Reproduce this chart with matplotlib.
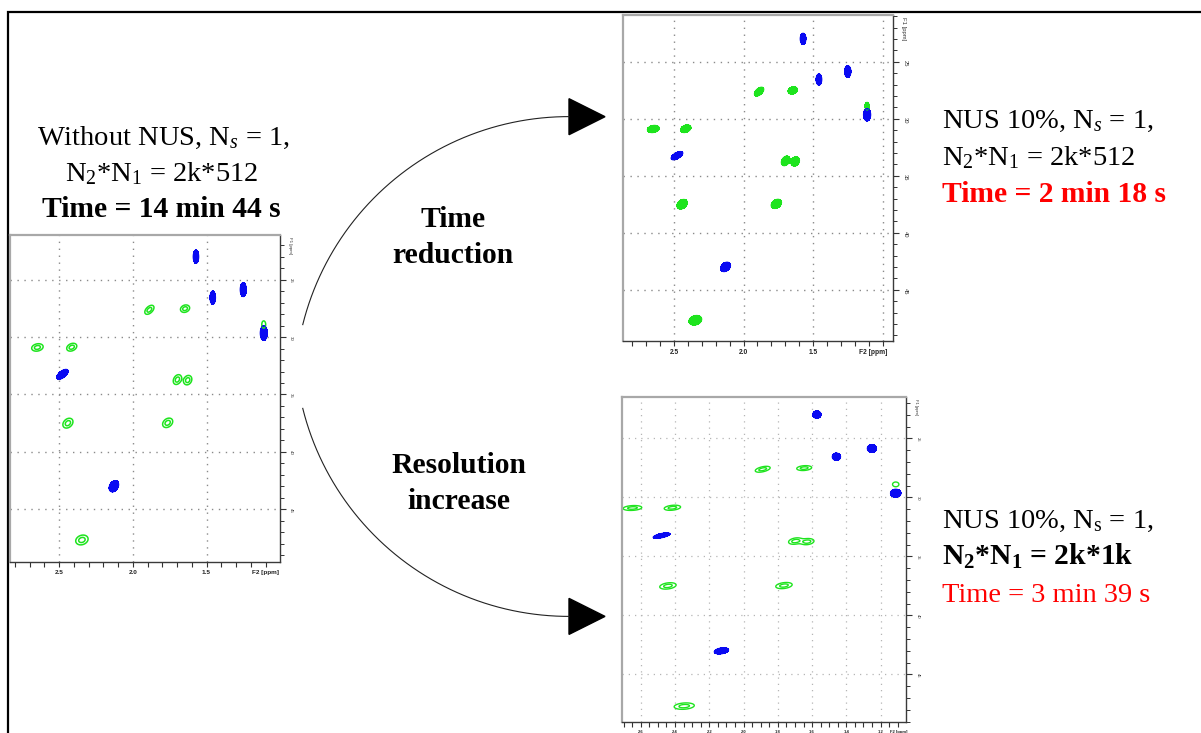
import numpy as np
import matplotlib
matplotlib.use("Agg")
import matplotlib.pyplot as plt
from matplotlib.ticker import FixedLocator, FixedFormatter, MultipleLocator
from matplotlib.patches import Polygon

plt.rcParams['mathtext.fontset'] = 'custom'
plt.rcParams['mathtext.rm'] = 'Liberation Serif'
plt.rcParams['mathtext.it'] = 'Liberation Serif:italic'
plt.rcParams['mathtext.bf'] = 'Liberation Serif:bold'
plt.rcParams['mathtext.default'] = 'regular'

# ---------------- data: cross peaks (F2 = 1H ppm, F1 = 13C ppm) ----------------
peak_f2 = [1.572, 1.458, 1.251, 1.112, 2.478, 2.129,
           2.648, 2.415, 1.888, 1.646, 1.698, 1.628, 2.441, 1.764, 2.346, 1.112]
peak_f1 = [22.99, 26.56, 25.86, 29.65, 33.24, 43.00,
           30.90, 30.88, 27.62, 27.52, 33.70, 33.75, 37.50, 37.47, 47.68, 28.90]
peak_sign = [-1, -1, -1, -1, -1, -1,
             1, 1, 1, 1, 1, 1, 1, 1, 1, 1]          # -1 = blue (CH2), +1 = green
peak_amp = [1, 1, 1, 1, 1, 1,
            1, 1, 1, 1, 1, 1, 1, 1, 1, 0.55]
peak_w2 = [1.0, 1.0, 1.1, 1.25, 2.0, 1.7,
           1.25, 1.1, 1.0, 1.0, 0.9, 0.9, 1.1, 1.1, 1.35, 0.6]   # relative F2 widths
peak_w1 = [1.0, 1.0, 1.05, 1.1, 0.75, 0.85,
           0.95, 1.0, 1.15, 0.95, 1.25, 1.2, 1.25, 1.2, 1.25, 1.3]  # relative F1 widths
peak_tilt = [0.0, 0.0, 0.0, 0.0, 0.6, 0.3,
             0.2, 0.3, 0.5, 0.2, 0.3, 0.2, 0.3, 0.3, 0.2, 0.0]

f2_ticks_std = [2.5, 2.0, 1.5, 1.0]
f2_labels_std = ['2.5', '2.0', '1.5', '']
f2_ticks_hr = [2.6, 2.4, 2.2, 2.0, 1.8, 1.6, 1.4, 1.2]
f2_labels_hr = ['2.6', '2.4', '2.2', '2.0', '1.8', '1.6', '1.4', '1.2']
f1_ticks = [25, 30, 35, 40, 45]
f1_labels = ['25', '30', '35', '40', '45']

txt_left = ['Without NUS, N$_{\\mathit{s}}$ = 1,', 'N$_2$*N$_1$ = 2k*512', 'Time = 14 min 44 s']
txt_top = ['NUS 10%, N$_{\\mathit{s}}$ = 1,', 'N$_2$*N$_1$ = 2k*512', 'Time = 2 min 18 s']
txt_bot = ['NUS 10%, N$_{\\mathrm{s}}$ = 1,', 'N$_2$*N$_1$ = 2k*1k', 'Time = 3 min 39 s']
txt_mid1 = ['Time', 'reduction']
txt_mid2 = ['Resolution', 'increase']

# ---------------- figure ----------------
W, H = 1201, 733
fig = plt.figure(figsize=(W / 100, H / 100), dpi=100)
GREEN = '#1ee41e'
BLUE = '#0a0af2'
SERIF = 'Liberation Serif'
SANS = 'Liberation Sans'


def px_rect(l, t, r, b):
    return [l / W, 1 - b / H, (r - l) / W, (b - t) / H]


def fields(xlim, ylim, sg, sb, nx=700, ny=900):
    x = np.linspace(min(xlim), max(xlim), nx)
    y = np.linspace(min(ylim), max(ylim), ny)
    X, Y = np.meshgrid(x, y)
    Zg = np.zeros_like(X)
    Zb = np.zeros_like(X)
    for f2, f1, s, a, w2, w1, t in zip(peak_f2, peak_f1, peak_sign, peak_amp,
                                       peak_w2, peak_w1, peak_tilt):
        base = sg if s > 0 else sb
        sx = base[0] * w2
        sy = base[1] * w1
        u = (X - f2) / sx
        v = (Y - f1) / sy
        g = a * np.exp(-0.5 * (u * u + v * v - 2 * t * u * v) / (1 - t * t))
        if s > 0:
            Zg += g
        else:
            Zb += g
    return X, Y, Zg, Zb


def panel(rect, xlim, ylim, sg, sb, green_lines, green_lw, top_level, xticks, xlabels,
          xminor, lab_fs, rlab_fs, f2x, grid_col, grid_lw):
    ax = fig.add_axes(rect, zorder=2)
    X, Y, Zg, Zb = fields(xlim, ylim, sg, sb)
    if green_lines:
        ax.contour(X, Y, Zg, levels=[0.3, 0.72], colors=GREEN, linewidths=green_lw)
    else:
        ax.contourf(X, Y, Zg, levels=[0.22, top_level], colors=GREEN)
        ax.contour(X, Y, Zg, levels=[0.22], colors=GREEN, linewidths=0.6)
    ax.contourf(X, Y, Zb, levels=[0.2, top_level], colors=BLUE)
    ax.contour(X, Y, Zb, levels=[0.2], colors=BLUE, linewidths=0.6)
    ax.set_xlim(xlim)
    ax.set_ylim(ylim)
    ax.set_axisbelow(True)
    ax.grid(True, which='major', color=grid_col, linestyle=(0, (1, 4)), linewidth=grid_lw)
    for side in ['left', 'top']:
        ax.spines[side].set_color('#a8a8a8')
        ax.spines[side].set_linewidth(1.6)
    for side in ['right', 'bottom']:
        ax.spines[side].set_color('#3a3a3a')
        ax.spines[side].set_linewidth(1.0)
    ax.yaxis.tick_right()
    ax.xaxis.set_major_locator(FixedLocator(xticks))
    ax.xaxis.set_major_formatter(FixedFormatter(xlabels))
    ax.xaxis.set_minor_locator(MultipleLocator(xminor))
    ax.yaxis.set_major_locator(FixedLocator(f1_ticks))
    ax.yaxis.set_major_formatter(FixedFormatter(f1_labels))
    ax.yaxis.set_minor_locator(MultipleLocator(1))
    ax.tick_params(axis='x', which='both', direction='out', length=3.5, width=0.8,
                   color='#333333', labelsize=lab_fs, pad=2.5, labelcolor='#222222')
    ax.tick_params(axis='y', which='major', direction='out', length=4.5, width=0.8,
                   color='#333333', labelsize=rlab_fs, labelrotation=-90, pad=2.5,
                   labelcolor='#333333')
    ax.tick_params(axis='y', which='minor', direction='out', length=3, width=0.7,
                   color='#333333')
    for lbl in ax.get_xticklabels():
        lbl.set_fontweight('bold')
        lbl.set_family(SANS)
    for lbl in ax.get_yticklabels():
        lbl.set_family(SANS)
    ax.annotate('F2 [ppm]', xy=(f2x, 0), xycoords='axes fraction', xytext=(0, -6.0),
                textcoords='offset points', ha='center', va='top', fontsize=lab_fs,
                fontweight='bold', family=SANS, color='#222222', annotation_clip=False)
    ax.annotate('F1 [ppm]', xy=(1, 1), xycoords='axes fraction', xytext=(6.0, -1.5),
                textcoords='offset points', ha='left', va='top', rotation=-90,
                fontsize=rlab_fs, family=SANS, color='#333333', annotation_clip=False)
    return ax


# left: without NUS
panel(px_rect(10, 235, 279.5, 562), (2.834, 1.005), (49.6, 21.1),
      sg=(0.020, 0.22), sb=(0.011, 0.33), green_lines=True, green_lw=1.1, top_level=50,
      xticks=f2_ticks_std, xlabels=f2_labels_std, xminor=0.1,
      lab_fs=4.6, rlab_fs=3.2, f2x=0.948, grid_col='#8a8a8a', grid_lw=1.0)
# top right: NUS 10 %
panel(px_rect(622.7, 15, 892.7, 341), (2.868, 0.928), (49.5, 20.9),
      sg=(0.020, 0.20), sb=(0.012, 0.28), green_lines=False, green_lw=1.0, top_level=0.95,
      xticks=f2_ticks_std, xlabels=f2_labels_std, xminor=0.1,
      lab_fs=4.8, rlab_fs=4.2, f2x=0.927, grid_col='#8a8a8a', grid_lw=1.0)
# bottom right: NUS 10 %, higher resolution
panel(px_rect(622, 397, 906, 721.7), (2.709, 1.052), (49.0, 21.5),
      sg=(0.028, 0.14), sb=(0.014, 0.18), green_lines=True, green_lw=1.0, top_level=50,
      xticks=f2_ticks_hr, xlabels=f2_labels_hr, xminor=0.05,
      lab_fs=3.0, rlab_fs=3.0, f2x=0.975, grid_col='#b5b5b5', grid_lw=0.9)

# ---------------- overlay: frame, arrows, text ----------------
ax0 = fig.add_axes([0, 0, 1, 1], zorder=1)
ax0.set_xlim(0, W)
ax0.set_ylim(H, 0)
ax0.axis('off')
ax0.plot([8, 8, W + 5], [H + 5, 12, 12], color='black', lw=1.6,
         solid_joinstyle='miter', clip_on=False)


def arc(cx, cy, R, a0, a1):
    t = np.radians(np.linspace(a0, a1, 200))
    ax0.plot(cx + R * np.cos(t), cy + R * np.sin(t), color='#222222', lw=0.8)


arc(569, 391, 274.4, -166, -90)
arc(569, 342, 274.4, 166, 90)
ax0.add_patch(Polygon([(569, 98.7), (569, 134.7), (605, 116.7)], closed=True, color='black'))
ax0.add_patch(Polygon([(569, 598.4), (569, 634.4), (605, 616.4)], closed=True, color='black'))

FS = 20.5
FSB = 21.3
# left text
ax0.text(163, 145, txt_left[0], ha='center', va='baseline', fontsize=FS, family=SERIF)
ax0.text(162, 181, txt_left[1], ha='center', va='baseline', fontsize=FS, family=SERIF)
ax0.text(161, 217, txt_left[2], ha='center', va='baseline', fontsize=FSB, family=SERIF,
         fontweight='bold')
# top right text
ax0.text(942, 128, txt_top[0], ha='left', va='baseline', fontsize=FS, family=SERIF)
ax0.text(942, 165, txt_top[1], ha='left', va='baseline', fontsize=FS, family=SERIF)
ax0.text(942, 202, txt_top[2], ha='left', va='baseline', fontsize=FSB, family=SERIF,
         fontweight='bold', color='#ff0000')
# bottom right text
ax0.text(942, 528, txt_bot[0], ha='left', va='baseline', fontsize=FS, family=SERIF)
ax0.text(942, 565, txt_bot[1], ha='left', va='baseline', fontsize=FSB, family=SERIF,
         fontweight='bold')
ax0.text(942, 602, txt_bot[2], ha='left', va='baseline', fontsize=FS, family=SERIF,
         color='#ff0000')
# middle labels
ax0.text(453, 227, txt_mid1[0], ha='center', va='baseline', fontsize=FSB, family=SERIF,
         fontweight='bold')
ax0.text(453, 263, txt_mid1[1], ha='center', va='baseline', fontsize=FSB, family=SERIF,
         fontweight='bold')
ax0.text(459, 473, txt_mid2[0], ha='center', va='baseline', fontsize=FSB, family=SERIF,
         fontweight='bold')
ax0.text(459, 509, txt_mid2[1], ha='center', va='baseline', fontsize=FSB, family=SERIF,
         fontweight='bold')

fig.savefig('out.png', dpi=100)
